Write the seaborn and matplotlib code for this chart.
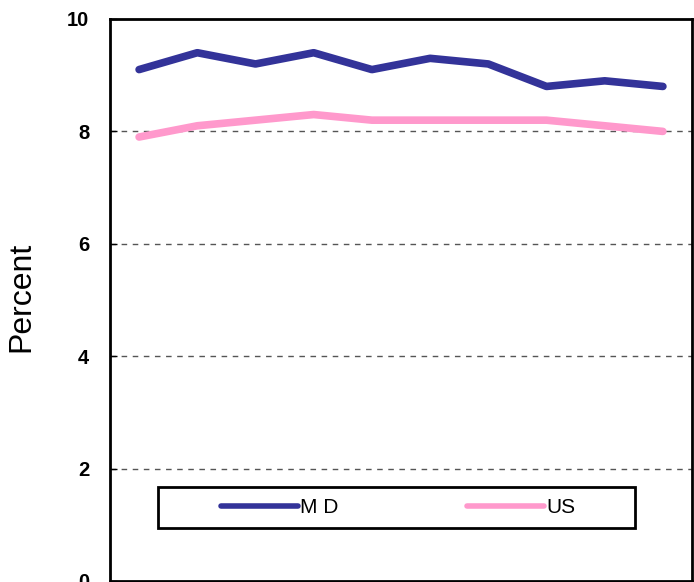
import numpy as np
import pandas as pd
import seaborn as sns
import matplotlib.pyplot as plt
from matplotlib.patches import Rectangle

# values
years = [1996, 1997, 1998, 1999, 2000, 2001, 2002, 2003, 2004, 2005]
md = [9.1, 9.4, 9.2, 9.4, 9.1, 9.3, 9.2, 8.8, 8.9, 8.8]
us = [7.9, 8.1, 8.2, 8.3, 8.2, 8.2, 8.2, 8.2, 8.1, 8.0]
series_names = ["M D", "US"]
colors = ["#333399", "#FF99CC"]
y_ticks = [0, 2, 4, 6, 8, 10]

df = pd.DataFrame({
    "year": years * 2,
    "value": md + us,
    "series": [series_names[0]] * len(years) + [series_names[1]] * len(years),
})

sns.set_style("white")
plt.rcParams["font.family"] = ["Liberation Sans", "DejaVu Sans"]
plt.rcParams["text.color"] = "black"
plt.rcParams["axes.labelcolor"] = "black"
plt.rcParams["ytick.color"] = "black"

fig = plt.figure(figsize=(6.94, 5.82), dpi=100)
ax = fig.add_axes([110 / 694, 1 - 581 / 582, 582 / 694, 562 / 582])

sns.lineplot(data=df, x="year", y="value", hue="series", palette=colors,
             linewidth=5.5, ax=ax, legend=False, solid_capstyle="round")

ax.set_xlim(years[0] - 0.5, years[-1] + 0.5)
ax.set_ylim(0, 10)
ax.set_yticks(y_ticks)
ax.set_yticklabels([str(t) for t in y_ticks], fontsize=14.5, fontweight="bold")
ax.tick_params(axis="y", direction="in", length=5, width=1, pad=15, left=True)
ax.tick_params(axis="x", bottom=False, labelbottom=False)
ax.set_xlabel("")
ax.set_ylabel("Percent", fontsize=23)
ax.yaxis.set_label_coords(-0.127, 0.505)

for t in y_ticks[1:-1]:
    ax.axhline(t, color="#555555", linewidth=1, linestyle=(0, (4, 4)), zorder=0)

for s in ax.spines.values():
    s.set_visible(True)
    s.set_color("black")
    s.set_linewidth(2)

# legend box
ax.add_patch(Rectangle((0.082, 0.094), 0.82, 0.073, transform=ax.transAxes,
                       fill=False, edgecolor="black", linewidth=2, zorder=5))
handles = [plt.Line2D([], [], color=c, linewidth=4, solid_capstyle="round") for c in colors]
leg = ax.legend(handles, series_names, loc="center", bbox_to_anchor=(0.495, 0.1305),
                ncol=2, frameon=False, fontsize=15, handlelength=3.7,
                handletextpad=0.1, columnspacing=6.2)

fig.savefig("out.png", dpi=100)
